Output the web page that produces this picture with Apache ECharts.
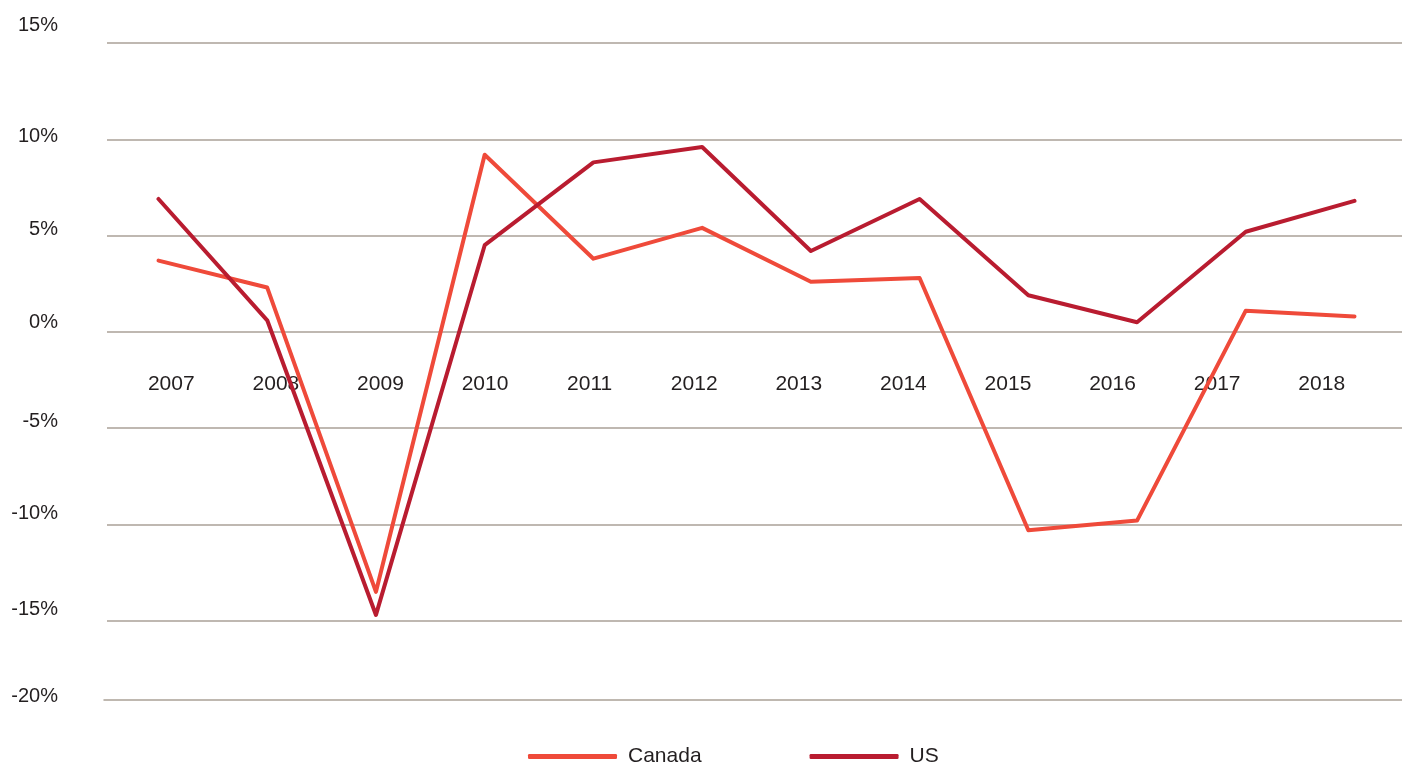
<!DOCTYPE html>
<html>
<head>
<meta charset="utf-8">
<script src="https://cdn.jsdelivr.net/npm/echarts@6/dist/echarts.min.js"></script>
<style>
    html, body { margin: 0; padding: 0; background: #fff; }
    #main { width: 1402px; height: 767px; }
</style>
</head>
<body>
<div id="main"></div>
<script>
var years = ["2007", "2008", "2009", "2010", "2011", "2012", "2013", "2014", "2015", "2016", "2017", "2018"];
var canada = [3.7, 2.3, -13.5, 9.2, 3.8, 5.4, 2.6, 2.8, -10.3, -9.8, 1.1, 0.8];
var us = [6.9, 0.6, -14.7, 4.5, 8.8, 9.6, 4.2, 6.9, 1.9, 0.5, 5.2, 6.8];

var gridColor = "#aaa197";
var font = "Liberation Sans, Arial, sans-serif";
var textStyle = { color: "#231f20", fontSize: 20, fontFamily: font };

// the source's y labels don't sit at a constant distance above their lines
var labelLift = { "15": 17.5, "10": 3, "5": 6.5, "0": 9, "-5": 7, "-10": 10.5, "-15": 11.5, "-20": 20.5 };
var rich = {};
for (var k in labelLift) {
    rich["v" + k.replace("-", "m")] = { padding: [0, 0, labelLift[k] * 2, 0], fontSize: 20, fontFamily: font, color: "#231f20" };
}

var chart = echarts.init(document.getElementById("main"));

var option = {
    animation: false,
    legend: {
        left: 523,
        top: 741,
        itemWidth: 89,
        itemHeight: 5,
        itemGap: 108,
        icon: "roundRect",
        textStyle: { color: "#231f20", fontSize: 21, fontFamily: font, padding: [0, 0, 0, 6] },
        data: ["Canada", "US"]
    },
    grid: [
        // gridlines + y labels
        { left: 107, right: 0, top: 43, bottom: 50 },
        // data, points sit on the edges
        { left: 158.5, right: 47.5, top: 43, bottom: 50 },
        // x labels
        { left: 119, right: 28, top: 332, height: 0 },
        // bottom axis line
        { left: 104, right: 0, top: 700, height: 0 }
    ],
    xAxis: [
        { gridIndex: 0, type: "category", data: years, show: false },
        { gridIndex: 1, type: "category", data: years, show: false, boundaryGap: false },
        {
            gridIndex: 2, type: "category", data: years,
            axisLine: { show: false }, axisTick: { show: false },
            axisLabel: { margin: 42, color: "#231f20", fontSize: 21, fontFamily: font }
        },
        {
            gridIndex: 3, type: "category", data: years,
            axisLine: { show: true, lineStyle: { color: gridColor, width: 1.5 } },
            axisTick: { show: false }, axisLabel: { show: false }
        }
    ],
    yAxis: [
        {
            gridIndex: 0, type: "value", min: -20, max: 15, interval: 5,
            axisLine: { show: false }, axisTick: { show: false },
            splitLine: { show: true, showMinLine: false, lineStyle: { color: gridColor, width: 1.5 } },
            axisLabel: Object.assign({
                margin: 49,
                verticalAlign: "middle",
                rich: rich,
                formatter: function (v) {
                    return "{v" + String(v).replace("-", "m") + "|" + v + "%}";
                }
            }, textStyle)
        },
        { gridIndex: 1, type: "value", min: -20, max: 15, interval: 5, show: false, splitLine: { show: false } },
        { gridIndex: 2, type: "value", show: false, splitLine: { show: false } },
        { gridIndex: 3, type: "value", show: false, splitLine: { show: false } }
    ],
    series: [
        {
            name: "Canada",
            type: "line",
            xAxisIndex: 1,
            yAxisIndex: 1,
            data: canada,
            symbol: "none",
            clip: false,
            color: "#ef4a3a",
            lineStyle: { width: 4, color: "#ef4a3a", cap: "round", join: "round" }
        },
        {
            name: "US",
            type: "line",
            xAxisIndex: 1,
            yAxisIndex: 1,
            data: us,
            symbol: "none",
            clip: false,
            color: "#b91c30",
            lineStyle: { width: 4, color: "#b91c30", cap: "round", join: "round" }
        }
    ]
};

chart.setOption(option);
</script>
</body>
</html>
